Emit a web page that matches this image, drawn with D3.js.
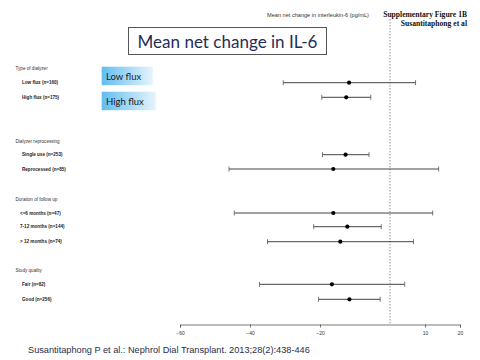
<!DOCTYPE html>
<html><head><meta charset="utf-8">
<script src="https://cdn.jsdelivr.net/npm/d3@7"></script>
<style>body{margin:0;background:#fff}svg{display:block}</style>
</head><body>
<script>
const rowLabels = ["Low flux (n=160)","High flux (n=175)","Single use (n=253)","Reprocessed (n=85)","<=6 months (n=47)","7-12 months (n=144)","> 12 months (n=74)","Fair (n=82)","Good (n=256)"];
const rowGroup = [0,0,1,1,2,2,2,3,3];
const groupLabels = ["Type of dialyzer","Dialyzer reprocessing","Duration of follow up","Study quality"];
const means = [-11.7,-12.5,-12.7,-16.2,-16.2,-12.2,-14.2,-16.6,-11.6];
const lower = [-30.5,-19.5,-19.3,-46,-44.5,-21.8,-35,-37.3,-20.4];
const upper = [7.3,-5.5,-6,13.9,12.2,-2.5,6.7,4.2,-2.8];
const tickValues = [-60,-40,-20,10,20];
const rowPos = [82.7,97.3,154.7,169,213,226.7,241.7,284.3,299.3];
const groupPos = [68,141,199,270];

const W=480,H=360;
const svg=d3.select("body").append("svg").attr("width",W).attr("height",H);
const x=d3.scaleLinear().domain([-60,20]).range([180,460]);
const nf="'Liberation Sans Narrow','Liberation Sans',Arial,sans-serif";

// dashed zero line
svg.append("line").attr("x1",x(0)).attr("x2",x(0)).attr("y1",19).attr("y2",324.5)
  .attr("stroke","#777").attr("stroke-width",0.8).attr("stroke-dasharray","1.5,1.5");

// axis
const ax=svg.append("g").attr("transform","translate(0,324.5)")
  .call(d3.axisBottom(x).tickValues(tickValues).tickSize(3).tickFormat(d3.format("d")));
ax.select(".domain").attr("stroke","#555").attr("stroke-width",0.8);
ax.selectAll(".tick line").attr("stroke","#555").attr("stroke-width",0.8);
ax.selectAll(".tick text").attr("font-family",nf).attr("font-size",5).attr("fill","#333").attr("dy","0.9em");

// rows
const rows=svg.append("g");
rowLabels.forEach((lab,i)=>{
  const y=rowPos[i];
  const g=rows.append("g");
  g.append("line").attr("x1",x(lower[i])).attr("x2",x(upper[i])).attr("y1",y).attr("y2",y).attr("stroke","#444").attr("stroke-width",1);
  [lower[i],upper[i]].forEach(v=>g.append("line").attr("x1",x(v)).attr("x2",x(v)).attr("y1",y-2.5).attr("y2",y+2.5).attr("stroke","#555").attr("stroke-width",0.8));
  g.append("circle").attr("cx",x(means[i])).attr("cy",y).attr("r",2.1).attr("fill","#000");
  svg.append("text").attr("x",rowGroup[i]===2?20:22).attr("y",y+1.7).text(lab)
    .attr("font-family",nf).attr("font-size",4.6).attr("font-weight","bold").attr("fill","#222");
});
groupLabels.forEach((lab,i)=>{
  svg.append("text").attr("x",15.5).attr("y",groupPos[i]+1.7).text(lab)
    .attr("font-family",nf).attr("font-size",4.6).attr("fill","#333");
});

// axis title
svg.append("text").attr("x",318).attr("y",17).attr("text-anchor","middle")
  .attr("font-family",nf).attr("font-size",5.6).attr("fill","#333").text("Mean net change in interleukin-6 (pg/mL)");

// supplementary
svg.append("text").attr("x",467).attr("y",17).attr("text-anchor","end")
  .attr("font-family","'Liberation Serif',serif").attr("font-weight","bold").attr("font-size",7.6).attr("fill","#111").text("Supplementary Figure 1B");
svg.append("text").attr("x",467).attr("y",26).attr("text-anchor","end")
  .attr("font-family","'Liberation Serif',serif").attr("font-weight","bold").attr("font-size",7.6).attr("fill","#111").text("Susantitaphong et al");

// title box
svg.append("rect").attr("x",128.5).attr("y",27.5).attr("width",198).attr("height",27).attr("fill","#fff").attr("stroke","#555").attr("stroke-width",1);
svg.append("text").attr("x",227.5).attr("y",47.5).attr("text-anchor","middle")
  .attr("font-family","Lato,'Open Sans',sans-serif").attr("font-size",17).attr("fill","#1f2d5a")
  .attr("textLength",180).attr("lengthAdjust","spacingAndGlyphs").text("Mean net change in IL-6");

// legend boxes
const defs=svg.append("defs");
const grad=defs.append("linearGradient").attr("id","gb").attr("x1","0").attr("x2","1").attr("y1","0").attr("y2","0");
grad.append("stop").attr("offset","0").attr("stop-color","#62bdf0");
grad.append("stop").attr("offset","1").attr("stop-color","#e6f4fc");
const legend=[{t:"Low flux",y:66.7,w:51},{t:"High flux",y:91.7,w:54}];
legend.forEach(l=>{
  svg.append("rect").attr("x",101.7).attr("y",l.y).attr("width",l.w).attr("height",18.5).attr("fill","url(#gb)");
  svg.append("text").attr("x",106).attr("y",l.y+13).attr("font-family","Lato,'Open Sans',sans-serif").attr("font-size",9.5).attr("fill","#1a1a1a").text(l.t);
});

// footer
svg.append("text").attr("x",28).attr("y",353).attr("font-family","'Liberation Sans',Arial,sans-serif").attr("font-size",9.2).attr("fill","#1f2d4a")
  .text("Susantitaphong P et al.: Nephrol Dial Transplant. 2013;28(2):438-446");
</script>
</body></html>
